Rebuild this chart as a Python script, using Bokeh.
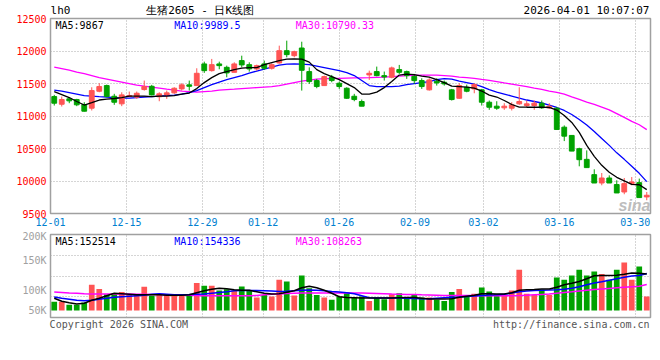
from bokeh.plotting import figure
from bokeh.models import Range1d, FixedTicker, Label, LinearAxis
from bokeh.layouts import column
from bokeh.embed import file_html
from bokeh.resources import INLINE

# ---------------- data ----------------
tick_idx = [0, 10, 20, 28, 38, 48, 57, 67, 77]
tick_labels = ["12-01", "12-15", "12-29", "01-12", "01-26", "02-09", "03-02", "03-16", "03-30"]
price_ticks = [9500, 10000, 10500, 11000, 11500, 12000, 12500]
vol_axis_labels = ["250K", "200K", "150K", "100K", "50K"]
footer_texts = ["Copyright 2026 SINA.COM", "http://finance.sina.com.cn"]
header_texts = ["lh0", "生猪2605 - 日K线图", "2026-04-01 10:07:07"]

opens = [11299, 11181, 11264, 11253, 11177, 11120, 11381, 11468, 11304, 11187,
         11299, 11289, 11407, 11457, 11296, 11325, 11356, 11417, 11479, 11468,
         11801, 11698, 11801, 11749, 11672, 11852, 11790, 11724, 11801, 11734,
         11816, 12005, 11928, 12046, 11683, 11545, 11468, 11596, 11504, 11427,
         11304, 11223, 11632, 11683, 11621, 11596, 11714, 11683, 11611, 11545,
         11402, 11534, 11519, 11402, 11273, 11442, 11417, 11402, 11212, 11151,
         11126, 11120, 11187, 11161, 11161, 11197, 11126, 11120, 10828, 10701,
         10497, 10333, 10098, 9969, 10046, 9945, 9831, 9960, 9975, 9755]
highs = [11325, 11299, 11289, 11264, 11212, 11442, 11504, 11483, 11341, 11365,
         11376, 11376, 11545, 11479, 11365, 11391, 11442, 11504, 11545, 11734,
         11836, 11878, 11836, 11775, 11826, 11928, 11826, 11790, 11852, 11810,
         12082, 12159, 12005, 12143, 11749, 11571, 11621, 11632, 11529, 11442,
         11341, 11253, 11698, 11760, 11683, 11760, 11786, 11698, 11647, 11580,
         11580, 11580, 11545, 11417, 11504, 11483, 11504, 11417, 11238, 11227,
         11197, 11212, 11442, 11238, 11238, 11238, 11197, 11135, 10855, 10701,
         10512, 10471, 10180, 10123, 10087, 10011, 10046, 10061, 10037, 9831]
lows = [11161, 11146, 11197, 11151, 11069, 11085, 11365, 11289, 11172, 11151,
        11289, 11264, 11391, 11315, 11227, 11264, 11341, 11391, 11391, 11468,
        11663, 11683, 11719, 11596, 11672, 11749, 11683, 11698, 11709, 11714,
        11805, 11903, 11903, 11391, 11494, 11427, 11468, 11519, 11417, 11264,
        11227, 11151, 11555, 11611, 11545, 11580, 11647, 11571, 11494, 11417,
        11391, 11468, 11468, 11238, 11264, 11365, 11350, 11161, 11095, 11095,
        11095, 11085, 11172, 11135, 11095, 11110, 11110, 10793, 10614, 10460,
        10226, 10206, 9969, 9934, 9969, 9816, 9796, 9934, 9745, 9704]
closes = [11197, 11253, 11233, 11172, 11074, 11391, 11453, 11299, 11212, 11325,
          11315, 11350, 11453, 11325, 11341, 11356, 11427, 11479, 11457, 11657,
          11698, 11790, 11775, 11663, 11801, 11786, 11724, 11775, 11734, 11790,
          12005, 11944, 11990, 11703, 11529, 11453, 11606, 11545, 11453, 11273,
          11253, 11151, 11657, 11621, 11601, 11740, 11672, 11621, 11545, 11453,
          11555, 11509, 11494, 11253, 11468, 11381, 11483, 11212, 11135, 11120,
          11151, 11172, 11223, 11187, 11197, 11126, 11151, 10793, 10690, 10460,
          10328, 10206, 9969, 10046, 9969, 9816, 9960, 9985, 9745, 9781]

ma5 = [11376, 11330, 11284, 11223, 11169, 11207, 11246, 11261, 11269, 11284,
       11307, 11307, 11307, 11299, 11307, 11307, 11315, 11338, 11353, 11422,
       11514, 11591, 11652, 11683, 11714, 11737, 11744, 11744, 11790, 11821,
       11852, 11875, 11878, 11875, 11829, 11714, 11652, 11606, 11560, 11499,
       11437, 11338, 11338, 11368, 11437, 11530, 11629, 11645, 11637, 11614,
       11599, 11560, 11514, 11460, 11453, 11445, 11430, 11384, 11322, 11292,
       11238, 11177, 11138, 11135, 11135, 11135, 11131, 11092, 11008, 10901,
       10747, 10548, 10379, 10241, 10134, 10057, 10003, 9949, 9942, 9867]
ma10 = [11399, 11384, 11361, 11338, 11315, 11307, 11299, 11292, 11284, 11276,
        11276, 11284, 11292, 11299, 11307, 11315, 11322, 11338, 11361, 11391,
        11437, 11483, 11522, 11560, 11591, 11622, 11660, 11691, 11721, 11752,
        11783, 11798, 11801, 11798, 11790, 11767, 11744, 11721, 11698, 11668,
        11622, 11545, 11468, 11453, 11453, 11453, 11460, 11483, 11499, 11514,
        11530, 11560, 11576, 11568, 11537, 11514, 11491, 11453, 11407, 11368,
        11338, 11307, 11276, 11246, 11223, 11200, 11169, 11131, 11085, 11023,
        10947, 10862, 10763, 10655, 10548, 10433, 10333, 10226, 10118, 9989.5]
ma30 = [11752, 11729, 11706, 11675, 11652, 11622, 11591, 11568, 11545, 11522,
        11499, 11476, 11460, 11445, 11430, 11414, 11399, 11384, 11376, 11368,
        11376, 11384, 11399, 11407, 11414, 11422, 11430, 11437, 11445, 11453,
        11468, 11491, 11514, 11537, 11553, 11568, 11575, 11575, 11580, 11583,
        11586, 11588, 11591, 11595, 11599, 11606, 11614, 11622, 11625, 11629,
        11629, 11629, 11622, 11614, 11597, 11589, 11579, 11563, 11548, 11530,
        11510, 11491, 11471, 11453, 11430, 11408, 11384, 11364, 11338, 11295,
        11255, 11215, 11178, 11138, 11095, 11037, 10979, 10917, 10865, 10790.33]

# volume in thousands of lots
volume_k = [36, 36, 24, 24, 33, 107, 90, 68, 72, 77,
            65, 65, 99, 61, 65, 68, 65, 63, 63, 115,
            103, 103, 83, 89, 83, 100, 83, 54, 65, 58,
            128, 121, 63, 146, 93, 65, 54, 45, 58, 75,
            54, 58, 40, 52, 47, 68, 72, 52, 68, 54,
            54, 45, 40, 77, 90, 58, 70, 96, 79, 68,
            65, 83, 170, 70, 65, 86, 65, 138, 128, 146,
            170, 146, 163, 152, 128, 170, 200, 128, 183, 58]
vma5_k = [50.8, 38.3, 32.1, 26.7, 30.0, 42.5, 50.8, 61.3, 71.7, 69.6,
          67.5, 65.4, 65.4, 65.4, 65.4, 63.3, 63.3, 63.3, 65.4, 73.8,
          82.1, 88.3, 92.5, 90.4, 86.3, 84.2, 84.2, 77.9, 71.7, 68.3,
          69.6, 75.8, 82.1, 94.6, 100.8, 94.6, 84.2, 71.7, 57.1, 54.2,
          52.9, 51.7, 51.7, 51.7, 51.7, 51.7, 52.9, 54.2, 54.2, 50.8,
          47.5, 47.5, 47.5, 48.8, 55.0, 59.2, 63.3, 69.6, 69.6, 68.3,
          68.3, 73.8, 84.2, 86.3, 87.5, 89.2, 89.2, 96.7, 107.1, 113.3,
          120.8, 132.1, 144.6, 145.8, 145.8, 146.7, 150.8, 155.8, 155.0, 152.514]
vma10_k = [55.8, 50.8, 46.7, 42.5, 40.4, 42.5, 46.7, 50.8, 55.0, 57.1,
           59.2, 61.3, 63.3, 67.5, 69.6, 67.5, 65.4, 65.4, 66.3, 67.5,
           68.3, 71.7, 75.0, 77.9, 82.1, 83.3, 83.3, 83.3, 82.1, 80.8,
           79.2, 80.0, 82.1, 84.2, 85.0, 84.2, 82.1, 79.2, 76.7, 73.8,
           69.6, 61.3, 52.9, 51.7, 51.7, 51.7, 51.7, 50.8, 49.6, 48.8,
           48.8, 50.8, 52.9, 55.0, 55.8, 57.9, 60.0, 62.5, 64.2, 65.4,
           67.5, 72.5, 77.9, 80.8, 83.3, 84.2, 85.0, 86.3, 88.3, 92.5,
           98.8, 107.1, 114.2, 119.6, 125.8, 132.1, 138.3, 143.3, 145.8, 154.336]
vma30_k = [76.7, 75.0, 72.9, 71.7, 69.6, 68.3, 68.3, 68.3, 68.3, 68.3,
           68.3, 67.5, 67.5, 66.7, 66.3, 65.4, 65.4, 64.6, 63.3, 62.5,
           61.3, 61.3, 61.3, 61.3, 61.3, 61.3, 61.3, 62.5, 65.4, 67.5,
           68.3, 70.4, 71.7, 72.5, 72.5, 72.5, 72.5, 72.5, 72.5, 72.5,
           72.5, 72.5, 71.7, 70.8, 69.6, 68.3, 67.5, 66.7, 66.3, 65.4,
           64.6, 63.8, 62.5, 62.5, 62.5, 62.5, 62.1, 61.7, 61.3, 61.3,
           61.3, 61.3, 62.1, 63.3, 65.4, 67.1, 68.3, 71.7, 75.0, 77.9,
           81.3, 84.6, 87.1, 89.6, 92.1, 94.6, 96.7, 98.8, 100.8, 108.263]

# ---------------- style / layout ----------------
UP = "#FF5454"
DOWN = "#00A200"
GRID = "#AAAAAA"
FRAME = "#A0A0A0"
MONO = "DejaVu Sans Mono"
FS = "10px"
PAGE_W = 660
LEFT, RIGHT = 50, 10
FRAME_W = PAGE_W - LEFT - RIGHT

n = len(closes)
slot = 79 / n                       # gridline scale spans 0..79, candles sit in n slots
xs = [(i + 0.5) * slot for i in range(n)]
colors = [UP if c >= o else DOWN for o, c in zip(opens, closes)]
body_top = [max(o, c) for o, c in zip(opens, closes)]
body_bot = [min(o, c) for o, c in zip(opens, closes)]


def style_axis(ax, color, standoff, size=FS, style="normal"):
    ax.axis_line_color = None
    ax.major_tick_line_color = None
    ax.minor_tick_line_color = None
    ax.major_tick_out = 0
    ax.major_tick_in = 0
    ax.minor_tick_out = 0
    ax.minor_tick_in = 0
    ax.major_label_standoff = standoff
    ax.major_label_text_color = color
    ax.major_label_text_font = MONO
    ax.major_label_text_font_size = size
    ax.major_label_text_font_style = style


def style_grid(g):
    g.grid_line_color = GRID
    g.grid_line_dash = "1 2"
    g.grid_line_width = 1


# ---------- main (price) panel ----------
p1 = figure(frame_width=FRAME_W, frame_height=195,
            x_range=Range1d(0, 79), y_range=Range1d(price_ticks[0], price_ticks[-1]),
            output_backend="svg", toolbar_location=None,
            min_border_left=LEFT, min_border_right=RIGHT, min_border_top=18, min_border_bottom=17)
p1.outline_line_color = FRAME
p1.outline_line_width = 1.5
p1.background_fill_color = "white"
p1.border_fill_color = "white"

xa = p1.xaxis[0]
xa.ticker = FixedTicker(ticks=tick_idx)
xa.major_label_overrides = dict(zip(tick_idx, tick_labels))
style_axis(xa, "#0080D0", 4)

ya = p1.yaxis[0]
ya.ticker = FixedTicker(ticks=price_ticks)
style_axis(ya, "#FF0000", 4)

top_y = price_ticks[-1]

# header row carried by an axis along the top edge of the price panel
header_pos = [1.32, 19.7, 70.57]
hx = LinearAxis(ticker=FixedTicker(ticks=header_pos),
                major_label_overrides=dict(zip(header_pos, header_texts)))
style_axis(hx, "#000000", 2, "11px")
p1.add_layout(hx, "above")

# the volume scale's top label overflows into the price panel's margin
T250 = 9690
va = LinearAxis(fixed_location=0, ticker=FixedTicker(ticks=[T250]),
                major_label_overrides={T250: vol_axis_labels[0]})
style_axis(va, "#A0A0A0", 4)
p1.add_layout(va, "left")

style_grid(p1.xgrid)
p1.ygrid.ticker = FixedTicker(ticks=price_ticks[1:-1])
style_grid(p1.ygrid)

p1.line(xs, ma30, line_color="#FF00FF", line_width=1.3)
p1.line(xs, ma10, line_color="#0000FF", line_width=1.3)
p1.segment(x0=xs, y0=lows, x1=xs, y1=highs, line_color=colors, line_width=1)
p1.vbar(x=xs, width=0.64 * slot, top=body_top, bottom=body_bot,
        fill_color=colors, line_color=colors, line_width=1)
p1.line(xs, ma5, line_color="#000000", line_width=1.3)

ma_text_x = [0.66, 16.3, 32.3]
p1.add_layout(Label(x=ma_text_x[0], y=top_y, text="MA5:%g" % ma5[-1], text_font=MONO, text_font_size=FS,
                    text_color="#000000", text_baseline="top", y_offset=-1))
p1.add_layout(Label(x=ma_text_x[1], y=top_y, text="MA10:%g" % ma10[-1], text_font=MONO, text_font_size=FS,
                    text_color="#0000FF", text_baseline="top", y_offset=-1))
p1.add_layout(Label(x=ma_text_x[2], y=top_y, text="MA30:%.2f" % ma30[-1], text_font=MONO, text_font_size=FS,
                    text_color="#FF00FF", text_baseline="top", y_offset=-1))
p1.add_layout(Label(x=79, y=price_ticks[0], text="sina", text_font="Liberation Sans", text_font_size="16px",
                    text_font_style="bold italic", text_color="#BDBDBD", text_align="right",
                    text_baseline="alphabetic", y_offset=8))

# ---------- volume panel ----------
VOL_FRAME_H = 83
VOL_PX_PER_K = 0.24
VOL_BASE_PAD = 7
vol_start = -VOL_BASE_PAD / VOL_PX_PER_K
vol_end = (VOL_FRAME_H - VOL_BASE_PAD) / VOL_PX_PER_K
VLAB_DOWN_PX = [0.5, 26.2, 55.9, 76.2]     # label centres below the volume frame top
vol_label_ticks = [round(vol_end - d / VOL_PX_PER_K, 2) for d in VLAB_DOWN_PX]

p2 = figure(frame_width=FRAME_W, frame_height=VOL_FRAME_H,
            x_range=p1.x_range, y_range=Range1d(vol_start, vol_end),
            output_backend="svg", toolbar_location=None,
            min_border_left=LEFT, min_border_right=RIGHT, min_border_top=4, min_border_bottom=22)
p2.outline_line_color = FRAME
p2.outline_line_width = 1.5
p2.background_fill_color = "white"
p2.border_fill_color = "white"

# footer texts carried by the bottom axis
footer_pos = [9.0, 68.57]
xb = p2.xaxis[0]
xb.ticker = FixedTicker(ticks=footer_pos)
xb.major_label_overrides = dict(zip(footer_pos, footer_texts))
style_axis(xb, "#555555", 1)

yb = p2.yaxis[0]
yb.ticker = FixedTicker(ticks=vol_label_ticks)
yb.major_label_overrides = dict(zip(vol_label_ticks, vol_axis_labels[1:]))
style_axis(yb, "#A0A0A0", 4)

p2.xgrid.ticker = FixedTicker(ticks=tick_idx)
style_grid(p2.xgrid)
p2.ygrid.ticker = FixedTicker(ticks=[vol_start + k * (vol_end - vol_start) / 4 for k in (1, 2, 3)])
style_grid(p2.ygrid)

p2.vbar(x=xs, width=0.76 * slot, top=volume_k, bottom=0, fill_color=colors, line_color=None)
p2.line(xs, vma30_k, line_color="#FF00FF", line_width=1.5)
p2.line(xs, vma10_k, line_color="#0000FF", line_width=1.5)
p2.line(xs, vma5_k, line_color="#000000", line_width=1.5)

p2.add_layout(Label(x=ma_text_x[0], y=vol_end, text="MA5:%d" % round(vma5_k[-1] * 1000), text_font=MONO,
                    text_font_size=FS, text_color="#000000", text_baseline="top", y_offset=-1))
p2.add_layout(Label(x=ma_text_x[1], y=vol_end, text="MA10:%d" % round(vma10_k[-1] * 1000), text_font=MONO,
                    text_font_size=FS, text_color="#0000FF", text_baseline="top", y_offset=-1))
p2.add_layout(Label(x=ma_text_x[2], y=vol_end, text="MA30:%d" % round(vma30_k[-1] * 1000), text_font=MONO,
                    text_font_size=FS, text_color="#FF00FF", text_baseline="top", y_offset=-1))

layout = column(p1, p2, spacing=0)
open("out.html", "w").write(file_html(layout, INLINE))
